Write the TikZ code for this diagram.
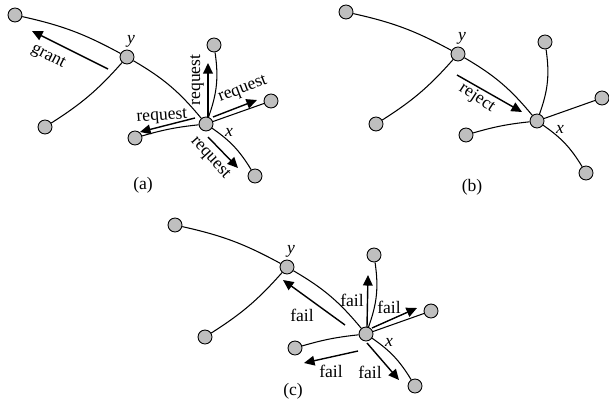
\documentclass[tikz,border=0pt]{standalone}
\usepackage{fontspec}
\setmainfont{Liberation Serif}
\usetikzlibrary{arrows.meta}

\begin{document}
\begin{tikzpicture}[x=0.02cm,y=-0.02cm]
    \tikzset{proc/.style={circle,draw,fill=black!25,minimum size=0.28cm,inner sep=0pt,line width=0.5pt}}
    \tikzset{link/.style={line width=0.6pt}}
    \tikzset{msg/.style={-{Triangle[length=6pt,width=5.5pt]},line width=0.8pt}}
    \tikzset{lbl/.style={inner sep=0pt,font=\normalsize}}
    \useasboundingbox (0,0) rectangle (609,412);
    % the same tree three times, shifted
    \foreach \p/\dx/\dy in {a/0/0,b/331/-3,c/160/210}{
      \begin{scope}[shift={(\dx,\dy)}]
        \node[proc] (\p-t) at (15,15) {};
        \node[proc] (\p-y) at (127,57) {};
        \node[proc] (\p-l) at (45,127) {};
        \node[proc] (\p-x) at (206,124) {};
        \node[proc] (\p-u) at (214,45) {};
        \node[proc] (\p-r) at (271,101) {};
        \node[proc] (\p-w) at (135,138) {};
        \node[proc] (\p-d) at (255,176) {};
        \node[lbl] (\p-ylab) at (131,41) {\textit{y}};
        \node[lbl] (\p-xlab) at (229,132) {\textit{x}};
        \draw[link] (\p-t) to[bend left=8] (\p-y);
        \draw[link] (\p-y) to[bend left=8] (\p-l);
        \draw[link] (\p-y) to[bend left=10] (\p-x);
        \draw[link] (\p-x) to[bend right=14] (\p-u);
        \draw[link] (\p-x) -- (\p-r);
        \draw[link] (\p-x) to[bend right=5] (\p-w);
        \draw[link] (\p-x) to[bend left=12] (\p-d);
      \end{scope}
    }
    \node[lbl] (cap-a) at (143,185) {(a)};
    \node[lbl] (cap-b) at (472,187) {(b)};
    \node[lbl] (cap-c) at (293,391) {(c)};
    % (a) requests and grant
    \draw[msg] (108,69) -- (32,31);
    \node[lbl,rotate=-27] (grant) at (48,57) {grant};
    \draw[msg] (208,117) -- (208,63);
    \node[lbl,rotate=90] (req-u) at (197,80) {request};
    \draw[msg] (213,117) -- (257,100);
    \node[lbl,rotate=21] (req-r) at (243,90) {request};
    \draw[msg] (195,118) -- (140,132);
    \node[lbl,rotate=4] (req-w) at (162,117) {request};
    \draw[msg] (208,137) -- (238,168);
    \node[lbl,rotate=-48] (req-d) at (210,158) {request};
    % (b) reject
    \draw[msg] (457,75) -- (522,112);
    \node[lbl,rotate=-33] (rej) at (477,98) {reject};
    % (c) fails
    \draw[msg] (345,325) -- (283,280);
    \node[lbl] (fail-y) at (302,315) {fail};
    \draw[msg] (367,327) -- (368,275);
    \node[lbl] (fail-u) at (352,300) {fail};
    \draw[msg] (372,328) -- (417,308);
    \node[lbl] (fail-r) at (389,307) {fail};
    \draw[msg] (358,351) -- (304,363);
    \node[lbl] (fail-w) at (331,371) {fail};
    \draw[msg] (367,343) -- (399,380);
    \node[lbl] (fail-d) at (370,372) {fail};
\end{tikzpicture}
\end{document}
